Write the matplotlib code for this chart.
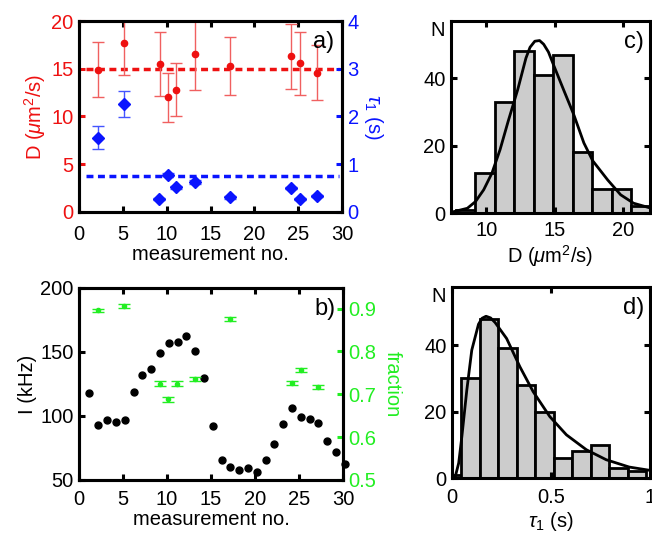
import matplotlib
matplotlib.use("Agg")
import matplotlib.pyplot as plt

plt.rcParams['font.family'] = ['Liberation Sans', 'DejaVu Sans']
plt.rcParams['mathtext.fontset'] = 'custom'
plt.rcParams['mathtext.rm'] = 'Liberation Sans'
plt.rcParams['mathtext.it'] = 'Liberation Sans:italic'
plt.rcParams['font.size'] = 14.5

RED = '#ee1111'
BLUE = '#0a14ff'
GREEN = '#22ee22'

# panel a: diffusion coefficient D and tau1 per measurement
d_x = [2.2, 5.1, 9.2, 10.2, 11.1, 13.2, 17.2, 24.2, 25.2, 27.1]
d_val = [14.9, 17.7, 15.5, 12.0, 12.8, 16.5, 15.3, 16.3, 15.6, 14.6]
d_err = [2.85, 3.4, 3.4, 2.57, 2.76, 3.73, 3.06, 3.38, 3.3, 2.9]
d_mean = 15.0

tau_x = [2.2, 5.1, 9.1, 10.1, 11.1, 13.2, 17.2, 24.2, 25.2, 27.1]
tau_val = [1.56, 2.26, 0.27, 0.78, 0.52, 0.62, 0.31, 0.50, 0.28, 0.335]
tau_err = [0.24, 0.28, 0.02, 0.03, 0.03, 0.04, 0.03, 0.02, 0.02, 0.02]
tau_mean = 0.76

# panel b: intensity and fraction per measurement
i_x = [1.15, 2.2, 3.2, 4.2, 5.2, 6.2, 7.2, 8.2, 9.2, 10.2, 11.2, 12.2, 13.2, 14.2, 15.2,
       16.2, 17.2, 18.2, 19.2, 20.2, 21.2, 22.2, 23.2, 24.2, 25.2, 26.2, 27.2, 28.2, 29.2, 30.2]
i_val = [118, 93, 97, 95.5, 97, 118.5, 132, 136.5, 149, 157, 158, 162.5, 151, 130, 92,
         66, 60.5, 58, 59.5, 56, 66, 78.5, 93.5, 106.5, 99, 97.5, 94.5, 80.5, 71.5, 62.5]

f_x = [2.2, 5.15, 9.2, 10.15, 11.15, 13.15, 17.2, 24.2, 25.2, 27.15]
f_val = [0.896, 0.906, 0.725, 0.688, 0.725, 0.736, 0.875, 0.726, 0.756, 0.717]
f_err = [0.004, 0.004, 0.006, 0.006, 0.006, 0.005, 0.005, 0.005, 0.005, 0.004]

# panel c: histogram of D with fit curve
c_edges = [7.76, 9.19, 10.62, 12.05, 13.48, 14.91, 16.34, 17.77, 19.2, 20.63, 22.06]
c_counts = [1, 12, 33, 48, 41, 47, 18, 7, 7, 2]
c_fit_x = [7.6, 8.6, 9.2, 9.8, 10.4, 11.0, 11.6, 12.3, 12.9, 13.2, 13.55, 13.9, 14.2,
           14.55, 14.95, 15.7, 16.4, 17.15, 17.8, 18.9, 19.85, 20.8, 22.1]
c_fit_y = [0.4, 1.4, 3.4, 6.9, 11.8, 18.8, 27.3, 36.7, 46.0, 49.2, 51.0, 51.2, 50.1,
           47.8, 43.7, 36.2, 29.3, 20.8, 15.5, 9.8, 5.4, 2.9, 1.4]

# panel d: histogram of tau1 with fit curve
d_edges = [0.0, 0.047, 0.14, 0.234, 0.327, 0.42, 0.514, 0.607, 0.7, 0.794, 0.887, 0.98]
d_counts = [1, 30, 48, 39, 28, 20, 6, 8, 10, 3, 2]
d_fit_x = [0.015, 0.034, 0.05, 0.075, 0.1, 0.134, 0.152, 0.172, 0.195, 0.218, 0.276,
           0.343, 0.41, 0.494, 0.578, 0.679, 0.779, 0.895, 1.0]
d_fit_y = [0.0, 4.5, 12.5, 26.5, 38.5, 46.3, 48.1, 48.7, 48.2, 46.8, 42.0, 33.5, 26.0,
           18.5, 13.0, 8.5, 5.5, 3.3, 2.3]

fig = plt.figure(figsize=(6.52, 5.36), dpi=100)
ax_a = fig.add_axes([0.1212, 0.6045, 0.4034, 0.3563])
ax_b = fig.add_axes([0.1212, 0.1045, 0.4049, 0.3582])
ax_c = fig.add_axes([0.6917, 0.6026, 0.3052, 0.3582])
ax_d = fig.add_axes([0.6932, 0.1082, 0.3037, 0.3563])

SPW = 2.2
TL = 4.5


def frame(ax):
    for s in ax.spines.values():
        s.set_linewidth(SPW)
    ax.tick_params(direction='in', length=TL, width=SPW, pad=4)


# ---- a) ----
ax_a2 = ax_a.twinx()
frame(ax_a)
frame(ax_a2)
ax_a.errorbar(d_x, d_val, yerr=d_err, fmt='o', color=RED, ms=4.5, ecolor='#f06060',
              elinewidth=1, capsize=4, capthick=1, zorder=3)
ax_a.plot([0.75, 29.6], [d_mean, d_mean], ls=(0, (2, 1.3)), color=RED, lw=2.5)
ax_a2.errorbar(tau_x, tau_val, yerr=tau_err, fmt='D', color=BLUE, ms=6.5, ecolor='#4455ff',
               elinewidth=1, capsize=4, capthick=1)
ax_a2.plot([0.75, 29.6], [tau_mean, tau_mean], ls=(0, (2, 1.3)), color=BLUE, lw=2.5)
ax_a.set_xlim(0, 30)
ax_a.set_ylim(0, 20)
ax_a2.set_ylim(0, 4)
ax_a.set_xticks([0, 5, 10, 15, 20, 25, 30])
ax_a.set_yticks([0, 5, 10, 15, 20])
ax_a2.set_yticks([0, 1, 2, 3, 4])
ax_a.tick_params(top=True, right=False)
ax_a.tick_params(axis='y', colors=RED)
ax_a.tick_params(axis='x', colors='black', pad=9.5)
ax_a2.tick_params(axis='y', colors=BLUE, right=True)
ax_a.set_xlabel('measurement no.', labelpad=0.5)
ax_a.set_ylabel(r'D ($\mathit{\mu}$m$^2$/s)', color=RED, labelpad=2)
ax_a2.set_ylabel(r'$\tau_1$ (s)', color=BLUE, rotation=270, labelpad=19)
ax_a.text(0.97, 0.95, 'a)', transform=ax_a.transAxes, ha='right', va='top', fontsize=17)

# ---- b) ----
ax_b2 = ax_b.twinx()
frame(ax_b)
frame(ax_b2)
ax_b.plot(i_x, i_val, 'o', color='black', ms=5, clip_on=False)
ax_b2.errorbar(f_x, f_val, yerr=f_err, fmt='o', color=GREEN, ms=3, elinewidth=1,
               capsize=4, capthick=1)
ax_b.set_xlim(0, 30)
ax_b.set_ylim(50, 200)
ax_b2.set_ylim(0.5, 0.948)
ax_b.set_xticks([0, 5, 10, 15, 20, 25, 30])
ax_b.set_yticks([50, 100, 150, 200])
ax_b2.set_yticks([0.5, 0.6, 0.7, 0.8, 0.9])
ax_b.tick_params(top=True, right=False)
ax_b.tick_params(axis='x', pad=7.4)
ax_b2.tick_params(axis='y', colors=GREEN, right=True)
ax_b.set_xlabel('measurement no.', labelpad=0.5)
ax_b.set_ylabel('I (kHz)', labelpad=2)
ax_b2.set_ylabel('fraction', color=GREEN, rotation=270, labelpad=18)
ax_b.text(0.97, 0.95, 'b)', transform=ax_b.transAxes, ha='right', va='top', fontsize=17)

# ---- c) ----
frame(ax_c)
c_left = c_edges[:-1]
c_w = [c_edges[k + 1] - c_edges[k] for k in range(len(c_counts))]
ax_c.bar(c_left, c_counts, width=c_w, align='edge', color='#cccccc', edgecolor='black', lw=2)
ax_c.plot(c_fit_x, c_fit_y, color='black', lw=2)
ax_c.set_xlim(7.4, 22)
ax_c.set_ylim(0, 57)
ax_c.set_xticks([10, 15, 20])
ax_c.set_yticks([0, 20, 40])
ax_c.tick_params(top=True, right=True)
ax_c.tick_params(axis='x', pad=6)
ax_c.set_xlabel(r'D ($\mathit{\mu}$m$^2$/s)', labelpad=2)
ax_c.text(-0.03, 1.0, 'N', transform=ax_c.transAxes, ha='right', va='top')
ax_c.text(0.97, 0.95, 'c)', transform=ax_c.transAxes, ha='right', va='top', fontsize=17)

# ---- d) ----
frame(ax_d)
d_left = d_edges[:-1]
d_w = [d_edges[k + 1] - d_edges[k] for k in range(len(d_counts))]
ax_d.bar(d_left, d_counts, width=d_w, align='edge', color='#cccccc', edgecolor='black', lw=2)
ax_d.plot(d_fit_x, d_fit_y, color='black', lw=2)
ax_d.set_xlim(0, 1)
ax_d.set_ylim(0, 57.5)
ax_d.set_xticks([0, 0.5, 1])
ax_d.set_xticklabels(['0', '0.5', '1'])
ax_d.set_yticks([0, 20, 40])
ax_d.tick_params(top=True, right=True)
ax_d.tick_params(axis='x', pad=7.4)
ax_d.set_xlabel(r'$\tau_1$ (s)', labelpad=2)
ax_d.text(-0.03, 1.0, 'N', transform=ax_d.transAxes, ha='right', va='top')
ax_d.text(0.97, 0.95, 'd)', transform=ax_d.transAxes, ha='right', va='top', fontsize=17)

fig.savefig('out.png', dpi=100)
